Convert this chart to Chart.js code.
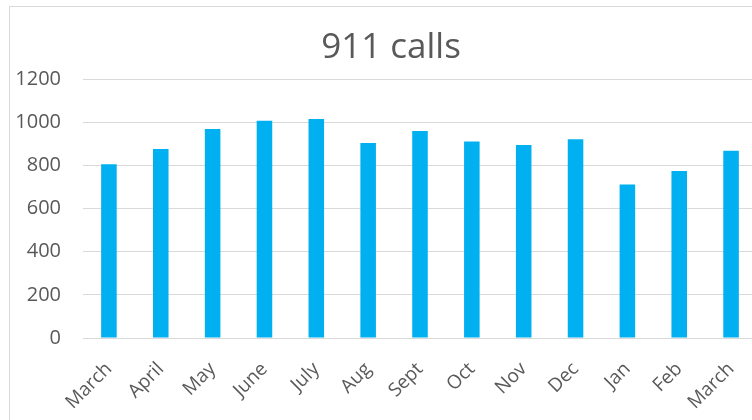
<!DOCTYPE html>
<html lang="en">
<head>
    <meta charset="UTF-8">
    <title>911 calls</title>
    <style>
        body { margin: 0; overflow: hidden; background: #fff; }
        #frame { position: absolute; left: 9px; top: 6px; width: 800px; height: 500px; border: 1px solid #d9d9d9; }
        #wrap { position: absolute; left: 0; top: 0; width: 782px; height: 420px; }
    </style>
</head>
<body>
    <div id="frame"></div>
    <div id="wrap">
        <canvas id="chart" width="782" height="420"></canvas>
    </div>

    <script src="https://cdn.jsdelivr.net/npm/chart.js@4.4.0/dist/chart.umd.min.js"></script>
    <script>
        // datos
        const meses = ["March", "April", "May", "June", "July", "Aug", "Sept", "Oct", "Nov", "Dec", "Jan", "Feb", "March"];
        const llamadas = [805, 876, 968, 1006, 1015, 904, 959, 911, 894, 921, 711, 774, 867];
        const ticksY = [0, 200, 400, 600, 800, 1000, 1200];

        const gris = '#595959';
        const fuente = 'Open Sans';

        const data = {
            labels: meses,
            datasets: [{
                label: '911 calls',
                data: llamadas,
                backgroundColor: '#00b0f0',
                borderWidth: 0,
                barPercentage: 0.3,
                categoryPercentage: 1
            }]
        };

        const config = {
            type: 'bar',
            data: data,
            options: {
                responsive: false,
                animation: false,
                layout: { padding: 0 },
                plugins: {
                    legend: { display: false },
                    tooltip: { enabled: false },
                    title: {
                        display: true,
                        text: '911 calls',
                        color: gris,
                        font: { family: fuente, size: 35, weight: 'normal' },
                        padding: { top: 27, bottom: 10 }
                    }
                },
                scales: {
                    x: {
                        grid: { display: false },
                        border: { display: false },
                        ticks: {
                            color: gris,
                            font: { family: fuente, size: 19 },
                            minRotation: 45,
                            maxRotation: 45,
                            autoSkip: false,
                            padding: 12
                        },
                        afterFit: (scale) => { scale.height = 82; }
                    },
                    y: {
                        min: ticksY[0],
                        max: ticksY[ticksY.length - 1],
                        afterBuildTicks: (scale) => {
                            scale.ticks = ticksY.map(v => ({ value: v }));
                        },
                        grid: { color: '#d9d9d9', lineWidth: 1, drawTicks: false },
                        border: { display: false },
                        ticks: {
                            color: gris,
                            font: { family: fuente, size: 20 },
                            padding: 22,
                            callback: (v) => String(v)
                        },
                        afterFit: (scale) => { scale.width = 83; }
                    },
                    // eje vacio a la derecha, solo para dejar el espacio
                    derecha: {
                        position: 'right',
                        grid: { display: false },
                        border: { display: false },
                        ticks: { display: false },
                        afterFit: (scale) => { scale.width = 25; }
                    }
                }
            }
        };

        const ctx = document.getElementById("chart").getContext("2d");
        const chart = new Chart(ctx, config);
    </script>
</body>
</html>
